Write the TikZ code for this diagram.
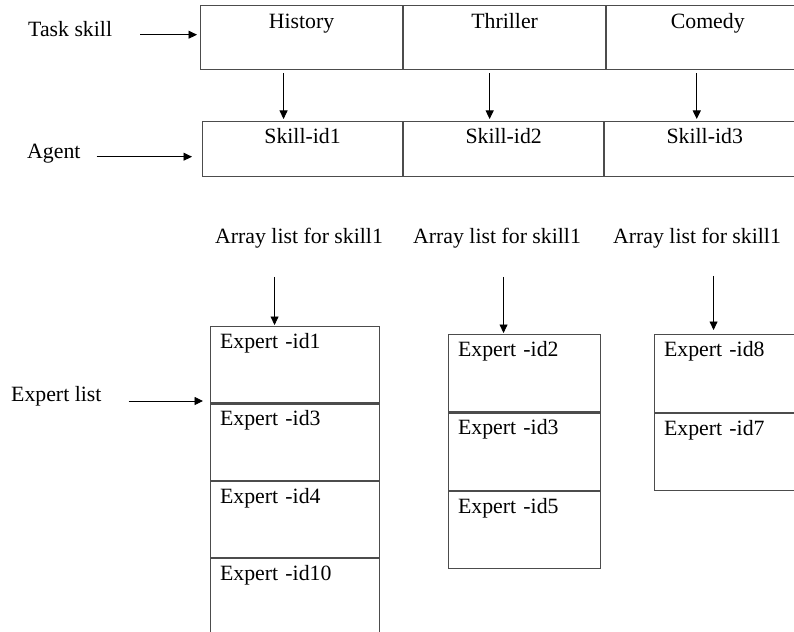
\documentclass[tikz,border=0pt]{standalone}
\usepackage{fontspec}
\setmainfont{Liberation Serif}
\usetikzlibrary{positioning,arrows.meta}

\begin{document}
\begin{tikzpicture}
[
    x=1pt, y=-1pt,
    font=\fontsize{21.8}{26}\selectfont,
    lbl/.style={inner sep=0pt, anchor=base west},
    topcell/.style={draw=black!70, line width=1.1pt, minimum width=202pt, inner ysep=0pt, text height=23pt, text depth=41pt},
    skcell/.style={draw=black!70, line width=1.1pt, minimum width=200pt, inner ysep=0pt, text height=22pt, text depth=33pt},
    excell/.style={draw=black!70, line width=1.1pt, inner xsep=9.5pt, inner ysep=0pt, align=left, text height=22pt, text depth=#1},
    arr/.style={-{Triangle[length=8.5pt,width=8pt]}, line width=0.9pt},
    node distance=0pt,
]
\useasboundingbox (0,0) rectangle (794,631);
\node [lbl] (task) at (28,37) {Task skill};
\node [lbl] (agent) at (27,159) {Agent};
\node [lbl] (explist) at (11,401) {Expert list};
\node [topcell, anchor=north west] (hist) at (200,5) {History};
\node [topcell, right=of hist] (thr) {Thriller};
\node [topcell, right=of thr] (com) {Comedy};
\node [skcell, anchor=north west] (sk1) at (202,121) {Skill-id1};
\node [skcell, right=of sk1] (sk2) {Skill-id2};
\node [skcell, right=of sk2] (sk3) {Skill-id3};
\node [lbl] (arr1) at (215,243) {Array list for skill1};
\node [lbl] (arr2) at (413,243) {Array list for skill1};
\node [lbl] (arr3) at (613,243) {Array list for skill1};
\node [excell=54.3pt, text width=150pt, anchor=north west] (ex1a) at (210,326) {Expert -id1};
\node [excell=54.3pt, text width=150pt, below=of ex1a] (ex1b) {Expert -id3};
\node [excell=54.3pt, text width=150pt, below=of ex1b] (ex1c) {Expert -id4};
\node [excell=54.3pt, text width=150pt, below=of ex1c] (ex1d) {Expert -id10};
\node [excell=55.3pt, text width=133pt, anchor=north west] (ex2a) at (448,334) {Expert -id2};
\node [excell=55.3pt, text width=133pt, below=of ex2a] (ex2b) {Expert -id3};
\node [excell=55.3pt, text width=133pt, below=of ex2b] (ex2c) {Expert -id5};
\node [excell=55.5pt, text width=133pt, anchor=north west] (ex3a) at (654,334) {Expert -id8};
\node [excell=55.5pt, text width=133pt, below=of ex3a] (ex3b) {Expert -id7};
\draw [arr, shorten <=28pt, shorten >=3pt] (task.mid east) -- (task.mid east -| hist.west);
\draw [arr, shorten <=16pt, shorten >=10pt] (agent.mid east) -- (agent.mid east -| sk1.west);
\draw [arr, shorten <=27pt, shorten >=7pt] (explist.base east) -- (explist.base east -| ex1a.west);
\draw [arr, shorten <=3pt, shorten >=2pt] ([xshift=-18pt]hist.south) -- ([xshift=-18pt]hist.south |- sk1.north);
\draw [arr, shorten <=3pt, shorten >=2pt] ([xshift=-15pt]thr.south) -- ([xshift=-15pt]thr.south |- sk2.north);
\draw [arr, shorten <=3pt, shorten >=2pt] ([xshift=-11pt]com.south) -- ([xshift=-11pt]com.south |- sk3.north);
\draw [arr, shorten <=29pt, shorten >=1pt] ([xshift=-20.5pt]ex1a.north |- arr1.south) -- ([xshift=-20.5pt]ex1a.north);
\draw [arr, shorten <=29pt, shorten >=1pt] ([xshift=-21pt]ex2a.north |- arr2.south) -- ([xshift=-21pt]ex2a.north);
\draw [arr, shorten <=28pt, shorten >=4pt] ([xshift=-17pt]ex3a.north |- arr3.south) -- ([xshift=-17pt]ex3a.north);
\end{tikzpicture}
\end{document}
